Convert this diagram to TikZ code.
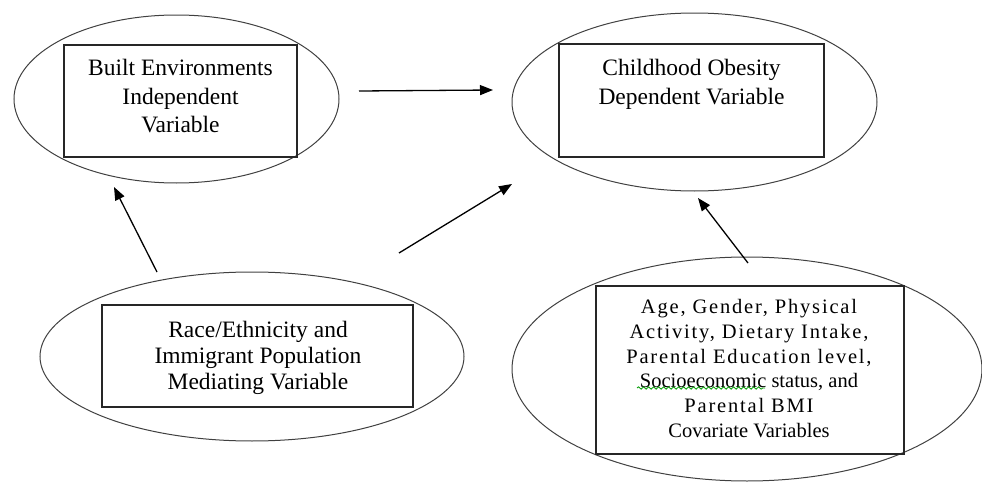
\documentclass[tikz,border=0pt]{standalone}
\usepackage{fontspec}
\setmainfont{Liberation Serif}
\newfontfamily\spacedfont[LetterSpace=8.8]{Liberation Serif}
\usetikzlibrary{shapes.geometric, arrows.meta, decorations.pathmorphing}

\begin{document}
\begin{tikzpicture}[x = 0.5pt, y = -0.5pt,
  oval/.style = {draw, ellipse, line width = 0.5pt, inner sep = 0pt, color = black!75},
  box/.style = {draw, rectangle, line width = 0.8pt, inner sep = 0pt, color = black!85},
  txt/.style = {align = center, inner sep = 0pt, font = \fontsize{11.75}{14.25}\selectfont},
  arr/.style = {-{Triangle[length = 6.5pt, width = 5pt]}, line width = 0.65pt}]
\useasboundingbox (0, 0) rectangle (982, 482);
% ovals
\node (beoval) at (176.5, 99) [oval, minimum width = 162.5pt, minimum height = 84pt] {};
\node (cooval) at (694.5, 102) [oval, minimum width = 182.5pt, minimum height = 89pt] {};
\node (rioval) at (252, 356.5) [oval, minimum width = 212pt, minimum height = 84.5pt] {};
\node (cvoval) at (747, 369) [oval, minimum width = 235pt, minimum height = 112pt] {};
% boxes
\node (bebox) at (180.5, 101) [box, minimum width = 116.5pt, minimum height = 56pt] {};
\node (cobox) at (691.5, 100.5) [box, minimum width = 132.5pt, minimum height = 56.5pt] {};
\node (ribox) at (257.5, 356) [box, minimum width = 155.5pt, minimum height = 51pt] {};
\node (cvbox) at (750, 370) [box, minimum width = 154pt, minimum height = 84pt] {};
% texts
\node (betext) at (180.5, 96.5) [txt] {Built Environments\\Independent\\Variable};
\node (cotext) at (691.5, 84.5) [txt] {Childhood Obesity\\Dependent Variable};
\node (ritext) at (258, 357.5) [txt, font = \fontsize{11.75}{13}\selectfont]
  {Race/Ethnicity and\\Immigrant Population\\Mediating Variable};
\node (cvtext) at (749, 368.5) [txt, font = \fontsize{10.25}{12.35}\selectfont]
  {{\spacedfont Age, Gender, Physical}\\{\spacedfont Activity, Dietary Intake,}\\
   {\spacedfont Parental Education level,}\\Socioeconomic status, and\\
   {\spacedfont Parental BMI}\\Covariate Variables};
\draw [green!60!black, line width = 0.4pt, decorate,
  decoration = {snake, amplitude = 0.6pt, segment length = 2.5pt}] (637, 388) -- (765, 388);
% arrows
\coordinate (a1s) at (359, 91);
\coordinate (a1e) at (493, 90);
\coordinate (a2s) at (399, 253);
\coordinate (a2e) at (512, 184);
\coordinate (a3s) at (157, 272);
\coordinate (a3e) at (114, 187);
\coordinate (a4s) at (748, 263);
\coordinate (a4e) at (698, 198);
\draw [arr] (a1s) -- (a1e);
\draw [arr] (a2s) -- (a2e);
\draw [arr] (a3s) -- (a3e);
\draw [arr] (a4s) -- (a4e);
\end{tikzpicture}
\end{document}
